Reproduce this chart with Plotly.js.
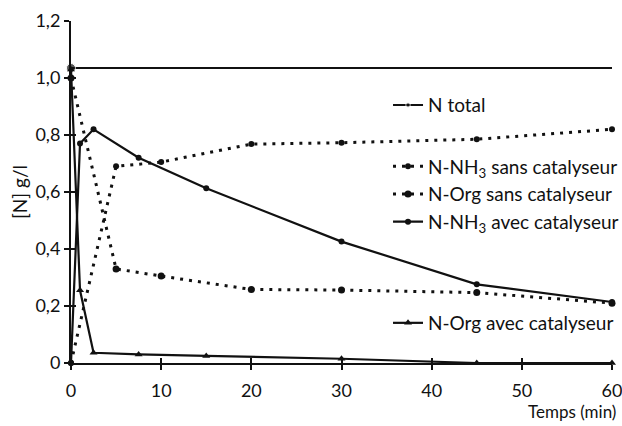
<!DOCTYPE html>
<html>
<head>
<meta charset="utf-8">
<script src="https://cdn.plot.ly/plotly-3.0.1.min.js"></script>
<style>html,body{margin:0;padding:0;background:#fff;}#chart{width:622px;height:426px;}</style>
</head>
<body>
<div id="chart"></div>
<script>
// ---- data ----
var timeTotal = [0, 60];
var nTotal = [1.035, 1.035];

var timeSans = [0, 5, 10, 20, 30, 45, 60];
var nh3Sans = [0, 0.69, 0.705, 0.768, 0.773, 0.785, 0.82];
var orgSans = [1.0, 0.33, 0.305, 0.258, 0.256, 0.247, 0.21];

var timeNh3Avec = [0, 1, 2.5, 7.5, 15, 30, 45, 60];
var nh3Avec = [0, 0.77, 0.82, 0.72, 0.613, 0.426, 0.276, 0.214];

var timeOrgAvec = [0, 1, 2.5, 7.5, 15, 30, 45, 60];
var orgAvec = [1.03, 0.255, 0.036, 0.03, 0.025, 0.015, 0, 0];

var xTicks = [0, 10, 20, 30, 40, 50, 60];
var yTickVals = [0, 0.2, 0.4, 0.6, 0.8, 1.0, 1.2];
var yTickText = ['0', '0,2', '0,4', '0,6', '0,8', '1,0', '1,2'];

var names = ['N total', 'N-NH<sub>3</sub> sans catalyseur', 'N-Org sans catalyseur',
             'N-NH<sub>3</sub> avec catalyseur', 'N-Org avec catalyseur'];

var FONT = 'Lato, "Open Sans", sans-serif';
var INK = '#111';

var traces = [
  {x: timeTotal, y: nTotal, name: names[0], mode: 'lines+markers', legend: 'legend',
   line: {color: INK, width: 2}, marker: {color: INK, size: [9, 0]}, cliponaxis: false},
  {x: timeSans, y: nh3Sans, name: names[1], mode: 'lines+markers', legend: 'legend2',
   line: {color: INK, width: 3, dash: '3px,6px'}, marker: {color: INK, size: 6}, cliponaxis: false},
  {x: timeSans, y: orgSans, name: names[2], mode: 'lines+markers', legend: 'legend2',
   line: {color: INK, width: 3, dash: '3px,6px'}, marker: {color: INK, size: 7}, cliponaxis: false},
  {x: timeNh3Avec, y: nh3Avec, name: names[3], mode: 'lines+markers', legend: 'legend2',
   line: {color: INK, width: 2.2}, marker: {color: INK, size: 6}, cliponaxis: false},
  {x: timeOrgAvec, y: orgAvec, name: names[4], mode: 'lines+markers', legend: 'legend3',
   line: {color: INK, width: 2.2}, marker: {color: INK, size: 7, symbol: 'triangle-up'}, cliponaxis: false},
  // empty trace so the overlay axes (inner half of the crossing ticks) are drawn
  {x: [], y: [], xaxis: 'x2', yaxis: 'y2', showlegend: false, hoverinfo: 'skip'}
];

var legendBase = {
  font: {family: FONT, size: 19, color: INK},
  bgcolor: 'rgba(0,0,0,0)', borderwidth: 0,
  xanchor: 'left', yanchor: 'middle', itemwidth: 30
};

var layout = {
  width: 622, height: 426,
  margin: {l: 71, r: 10, t: 21, b: 63, autoexpand: false},
  paper_bgcolor: '#fff', plot_bgcolor: '#fff',
  font: {family: FONT, size: 18, color: INK},
  showlegend: true,
  legend: Object.assign({}, legendBase, {x: 0.586, y: 0.754}),
  legend2: Object.assign({}, legendBase, {x: 0.586, y: 0.493}),
  legend3: Object.assign({}, legendBase, {x: 0.586, y: 0.117}),
  xaxis: {
    range: [0, 60], tickvals: xTicks, ticks: 'outside', ticklen: 5, tickwidth: 2, tickcolor: INK,
    showline: true, linecolor: INK, linewidth: 2, showgrid: false, zeroline: false,
    tickfont: {family: FONT, size: 18, color: INK}, ticklabelstandoff: 5, ticklabeloverflow: 'allow'
  },
  yaxis: {
    range: [0, 1.2], tickvals: yTickVals, ticktext: yTickText, ticks: 'outside', ticklen: 5, tickwidth: 2,
    tickcolor: INK, showline: true, linecolor: INK, linewidth: 2, showgrid: false, zeroline: false,
    tickfont: {family: FONT, size: 18, color: INK}, ticklabeloverflow: 'allow',
    title: {text: '[N] g/l', font: {family: FONT, size: 19, color: INK}, standoff: 3}
  },
  xaxis2: {
    overlaying: 'x', anchor: 'y2', range: [0, 60], tickvals: xTicks, ticks: 'inside', ticklen: 5,
    tickwidth: 2, tickcolor: INK, showticklabels: false, showline: false, showgrid: false, zeroline: false
  },
  yaxis2: {
    overlaying: 'y', anchor: 'x2', side: 'left', range: [0, 1.2], tickvals: yTickVals, ticks: 'inside',
    ticklen: 5, tickwidth: 2, tickcolor: INK, showticklabels: false, showline: false, showgrid: false,
    zeroline: false
  },
  annotations: [
    {text: 'Temps (min)', xref: 'paper', yref: 'paper', x: 1.012, y: -0.143, xanchor: 'right', yanchor: 'middle',
     showarrow: false, font: {family: FONT, size: 17, color: INK}}
  ]
};

Plotly.newPlot('chart', traces, layout, {displayModeBar: false, staticPlot: true});
</script>
</body>
</html>
